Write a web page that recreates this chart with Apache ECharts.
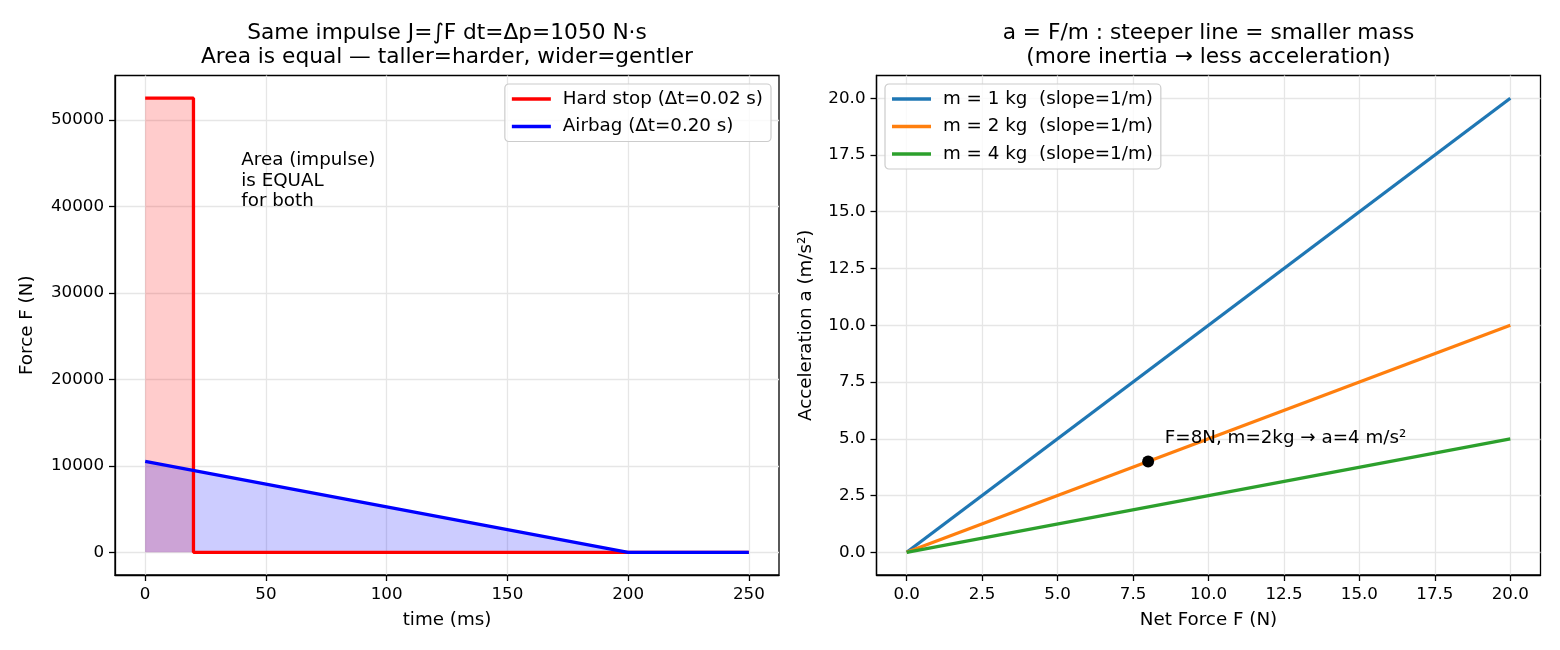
<!DOCTYPE html>
<html>
<head>
<meta charset="utf-8">
<script src="https://cdn.jsdelivr.net/npm/echarts@6/dist/echarts.min.js"></script>
<style>
  html, body { margin: 0; background: #fff; }
  #chart { width: 1560px; height: 650px; }
</style>
</head>
<body>
<div id="chart"></div>
<script>
// left panel: same impulse, two force profiles
const hardTime = [0, 20, 20, 250];
const hardForce = [52500, 52500, 0, 0];
const airTime = [0, 200, 250];
const airForce = [10500, 0, 0];
const timeTicks = [0, 50, 100, 150, 200, 250];
const forceTicks = [0, 10000, 20000, 30000, 40000, 50000];
const areaNote = [40, 40000];

// right panel: a = F/m for three masses
const netForce = [0, 20];
const accM1 = [0, 20];
const accM2 = [0, 10];
const accM4 = [0, 5];
const netForceTicks = [0, 2.5, 5, 7.5, 10, 12.5, 15, 17.5, 20];
const accTicks = [0, 2.5, 5, 7.5, 10, 12.5, 15, 17.5, 20];
const examplePoint = [8, 4];

const FONT = 'DejaVu Sans';
const TICK_FS = 16.7;
const FS = 18.3;
const zip = (xs, ys) => xs.map((x, i) => [x, ys[i]]);

const chart = echarts.init(document.getElementById('chart'));

// shared axis look (matplotlib-ish)
const axisBase = (ticks, fmt) => ({
  axisLine: { show: true, onZero: false, lineStyle: { color: '#000', width: 1.3 } },
  axisTick: { show: true, inside: false, length: 6, customValues: ticks,
              lineStyle: { color: '#000', width: 1.3 } },
  axisLabel: { customValues: ticks, formatter: fmt, color: '#000',
               fontSize: TICK_FS, fontFamily: FONT, margin: 11 },
  splitLine: { show: true, lineStyle: { color: '#e6e6e6', width: 1.3 } },
  nameLocation: 'middle',
  nameTextStyle: { color: '#000', fontSize: FS, fontFamily: FONT }
});

const legendBase = {
  orient: 'vertical',
  icon: 'rect',
  itemWidth: 39,
  itemHeight: 3.3,
  itemGap: 7.5,
  padding: [5, 8, 5, 7],
  backgroundColor: 'rgba(255,255,255,0.8)',
  borderColor: '#cccccc',
  borderWidth: 1.2,
  borderRadius: 4,
  selectedMode: false,
  textStyle: { color: '#000', fontSize: FS, fontFamily: FONT, lineHeight: 20, padding: [0, 0, 0, 7] }
};

const titleStyle = { fontSize: 21.7, lineHeight: 24, fontWeight: 'normal', color: '#000', fontFamily: FONT };

const option = {
  animation: false,
  backgroundColor: '#fff',
  title: [
    { text: 'Same impulse J=∫F dt=Δp=1050 N·s\nArea is equal — taller=harder, wider=gentler',
      left: 447, top: 21.5, padding: 0, textAlign: 'center', textStyle: titleStyle },
    { text: 'a = F/m : steeper line = smaller mass\n(more inertia → less acceleration)',
      left: 1208.5, top: 21.5, padding: 0, textAlign: 'center', textStyle: titleStyle }
  ],
  legend: [
    Object.assign({}, legendBase, {
      right: 789, top: 84,
      data: ['Hard stop (Δt=0.02 s)', 'Airbag (Δt=0.20 s)']
    }),
    Object.assign({}, legendBase, {
      left: 885, top: 84,
      data: ['m = 1 kg  (slope=1/m)', 'm = 2 kg  (slope=1/m)', 'm = 4 kg  (slope=1/m)']
    })
  ],
  grid: [
    { left: 115, top: 75.5, width: 664, height: 499.5, show: true, borderColor: '#000', borderWidth: 1.3, containLabel: false },
    { left: 876.5, top: 75.5, width: 664, height: 499.5, show: true, borderColor: '#000', borderWidth: 1.3, containLabel: false }
  ],
  xAxis: [
    Object.assign(axisBase(timeTicks, v => String(v)), {
      type: 'value', gridIndex: 0, min: -12.5, max: 262.5,
      name: 'time (ms)', nameGap: 36
    }),
    Object.assign(axisBase(netForceTicks, v => v.toFixed(1)), {
      type: 'value', gridIndex: 1, min: -1, max: 21,
      name: 'Net Force F (N)', nameGap: 36
    })
  ],
  yAxis: [
    Object.assign(axisBase(forceTicks, v => String(v)), {
      type: 'value', gridIndex: 0, min: -2625, max: 55125,
      name: 'Force F (N)', nameGap: 79
    }),
    Object.assign(axisBase(accTicks, v => v.toFixed(1)), {
      type: 'value', gridIndex: 1, min: -1, max: 21,
      name: 'Acceleration a (m/s²)', nameGap: 61
    })
  ],
  series: [
    {
      name: 'Hard stop (Δt=0.02 s)', type: 'line', xAxisIndex: 0, yAxisIndex: 0,
      data: zip(hardTime, hardForce), symbol: 'none', color: '#ff0000',
      lineStyle: { width: 3.3, color: '#ff0000' },
      areaStyle: { color: '#ff0000', opacity: 0.2, origin: 0 }
    },
    {
      name: 'Airbag (Δt=0.20 s)', type: 'line', xAxisIndex: 0, yAxisIndex: 0,
      data: zip(airTime, airForce), symbol: 'none', color: '#0000ff',
      lineStyle: { width: 3.3, color: '#0000ff' },
      areaStyle: { color: '#0000ff', opacity: 0.2, origin: 0 }
    },
    {
      type: 'scatter', xAxisIndex: 0, yAxisIndex: 0, silent: true,
      data: [areaNote], symbolSize: 1, itemStyle: { color: 'rgba(0,0,0,0)', opacity: 1 },
      label: {
        show: true, formatter: 'Area (impulse)\nis EQUAL\nfor both',
        position: [0, 5.75], align: 'left', verticalAlign: 'bottom',
        color: '#000', fontSize: FS, fontFamily: FONT, lineHeight: 20.5,
        textBorderWidth: 0
      }
    },
    {
      name: 'm = 1 kg  (slope=1/m)', type: 'line', xAxisIndex: 1, yAxisIndex: 1,
      data: zip(netForce, accM1), symbol: 'none', color: '#1f77b4',
      lineStyle: { width: 3.3 }
    },
    {
      name: 'm = 2 kg  (slope=1/m)', type: 'line', xAxisIndex: 1, yAxisIndex: 1,
      data: zip(netForce, accM2), symbol: 'none', color: '#ff7f0e',
      lineStyle: { width: 3.3 }
    },
    {
      name: 'm = 4 kg  (slope=1/m)', type: 'line', xAxisIndex: 1, yAxisIndex: 1,
      data: zip(netForce, accM4), symbol: 'none', color: '#2ca02c',
      lineStyle: { width: 3.3 }
    },
    {
      type: 'scatter', xAxisIndex: 1, yAxisIndex: 1, silent: true,
      data: [examplePoint], symbolSize: 12, itemStyle: { color: '#000', opacity: 1 }, z: 5,
      label: {
        show: true, formatter: 'F=8N, m=2kg → a=4 m/s²',
        position: [22.7, -17], align: 'left', verticalAlign: 'middle',
        color: '#000', fontSize: FS, fontFamily: FONT, textBorderWidth: 0
      }
    }
  ]
};

chart.setOption(option);
</script>
</body>
</html>
